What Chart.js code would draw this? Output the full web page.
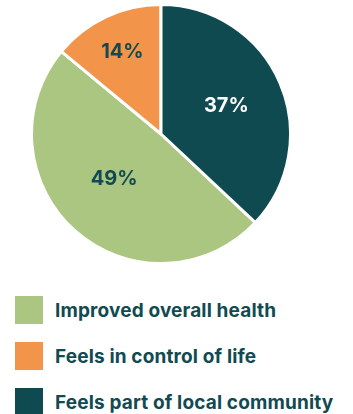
<!DOCTYPE html>
<html>
<head>
<meta charset="utf-8">
<script src="https://cdn.jsdelivr.net/npm/chart.js@4"></script>
<style>
  html, body { margin: 0; padding: 0; background: #fff; }
  body { width: 353px; height: 414px; position: relative; overflow: hidden; font-family: Inter, "Noto Sans", sans-serif; }
  #pie { position: absolute; left: 30px; top: 3px; }
  #legend { position: absolute; left: 15px; top: 296px; }
  .item { display: flex; align-items: center; height: 28px; margin-bottom: 18px; }
  .box { width: 28px; height: 28px; margin-right: 12px; }
  .item span { font-weight: 700; font-size: 19px; letter-spacing: 0.15px; color: #114a50; white-space: nowrap; }
</style>
</head>
<body>
<canvas id="pie" width="262" height="262"></canvas>
<div id="legend"></div>
<script>
// Datos
var categories = ['Improved overall health', 'Feels in control of life', 'Feels part of local community'];
var shares = [49, 14, 37];
var colors = ['#abc680', '#f2954a', '#104a51'];
var labelColors = ['#114a50', '#114a50', '#ffffff'];
var labelRadius = [0.5, 0.7, 0.55];

// Etiquetas de porcentaje dentro del pastel
var pctLabels = {
    id: 'pctLabels',
    afterDatasetsDraw: function (chart) {
        var ctx = chart.ctx;
        var meta = chart.getDatasetMeta(0);
        ctx.save();
        ctx.font = '700 20px Inter, "Noto Sans", sans-serif';
        ctx.textAlign = 'center';
        ctx.textBaseline = 'middle';
        meta.data.forEach(function (arc, i) {
            var mid = (arc.startAngle + arc.endAngle) / 2;
            var r = arc.outerRadius * labelRadius[i];
            ctx.fillStyle = labelColors[i];
            ctx.fillText(shares[i] + '%', arc.x + Math.cos(mid) * r - (i === 0 ? 4 : 0), arc.y + Math.sin(mid) * r - (i === 0 ? 4 : 0));
        });
        ctx.restore();
    }
};

var total = shares.reduce(function (a, b) { return a + b; }, 0);

new Chart(document.getElementById('pie'), {
    type: 'pie',
    data: {
        labels: categories,
        datasets: [{
            data: shares,
            backgroundColor: colors,
            borderColor: '#ffffff',
            borderWidth: 3
        }]
    },
    options: {
        responsive: false,
        animation: false,
        rotation: 360 * shares[2] / total,
        plugins: {
            legend: { display: false },
            tooltip: { enabled: false }
        }
    },
    plugins: [pctLabels]
});

// Leyenda
var legend = document.getElementById('legend');
categories.forEach(function (c, i) {
    legend.innerHTML += '<div class="item"><div class="box" style="background:' + colors[i] + '"></div><span>' + c + '</span></div>';
});
</script>
</body>
</html>
